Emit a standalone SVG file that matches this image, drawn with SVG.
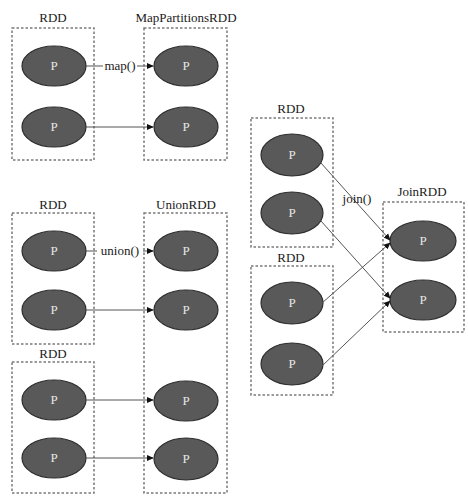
<svg xmlns="http://www.w3.org/2000/svg" width="468" height="499" viewBox="0 0 468 499">
<style>
.box{fill:none;stroke:#7a7a7a;stroke-width:1.5;stroke-dasharray:2.5 2}
.p{fill:#595959;stroke:#2e2e2e;stroke-width:1.2}
.pt{font-family:"Liberation Serif","DejaVu Serif",serif;font-size:13px;fill:#e6e6e6;text-anchor:middle}
.lb{font-family:"Liberation Serif","DejaVu Serif",serif;font-size:13px;fill:#1a1a1a;text-anchor:middle}
.c{stroke:#555;stroke-width:1;fill:none}
</style>
<defs>
<marker id="ah" viewBox="0 0 8 8" refX="7" refY="4" markerWidth="7" markerHeight="7" orient="auto" markerUnits="userSpaceOnUse">
<path d="M0,0.5 L8,4 L0,7.5 z" fill="#111"/>
</marker>
</defs>
<g id="rdd-map-src">
<text class="lb" x="53" y="22">RDD</text>
<rect class="box" x="12" y="28" width="82" height="132"/>
<ellipse class="p" cx="54" cy="66" rx="32" ry="20"/><text class="pt" x="54" y="70">P</text>
<ellipse class="p" cx="54" cy="127" rx="32" ry="20"/><text class="pt" x="54" y="131">P</text>
</g>
<g id="mappartitionsrdd">
<text class="lb" x="186" y="22">MapPartitionsRDD</text>
<rect class="box" x="144" y="28" width="83" height="132"/>
<ellipse class="p" cx="186" cy="66" rx="32" ry="20"/><text class="pt" x="186" y="70">P</text>
<ellipse class="p" cx="186" cy="127" rx="32" ry="20"/><text class="pt" x="186" y="131">P</text>
</g>
<g id="rdd-union-src1">
<text class="lb" x="53" y="209">RDD</text>
<rect class="box" x="12" y="213" width="82" height="131"/>
<ellipse class="p" cx="54" cy="251" rx="32" ry="20"/><text class="pt" x="54" y="255">P</text>
<ellipse class="p" cx="54" cy="310" rx="32" ry="20"/><text class="pt" x="54" y="314">P</text>
</g>
<g id="rdd-union-src2">
<text class="lb" x="53" y="358">RDD</text>
<rect class="box" x="12" y="362" width="82" height="131"/>
<ellipse class="p" cx="54" cy="400" rx="32" ry="20"/><text class="pt" x="54" y="404">P</text>
<ellipse class="p" cx="54" cy="458" rx="32" ry="20"/><text class="pt" x="54" y="462">P</text>
</g>
<g id="unionrdd">
<text class="lb" x="186" y="209">UnionRDD</text>
<rect class="box" x="144" y="213" width="83" height="280"/>
<ellipse class="p" cx="186" cy="251" rx="32" ry="20"/><text class="pt" x="186" y="255">P</text>
<ellipse class="p" cx="186" cy="310" rx="32" ry="20"/><text class="pt" x="186" y="314">P</text>
<ellipse class="p" cx="186" cy="401" rx="32" ry="20"/><text class="pt" x="186" y="405">P</text>
<ellipse class="p" cx="186" cy="459" rx="32" ry="21"/><text class="pt" x="186" y="463">P</text>
</g>
<g id="rdd-join-src1">
<text class="lb" x="291" y="113">RDD</text>
<rect class="box" x="251" y="118" width="82" height="129"/>
<ellipse class="p" cx="292" cy="155" rx="31" ry="21"/><text class="pt" x="292" y="159">P</text>
<ellipse class="p" cx="292" cy="213" rx="31" ry="21"/><text class="pt" x="292" y="217">P</text>
</g>
<g id="rdd-join-src2">
<text class="lb" x="291" y="262">RDD</text>
<rect class="box" x="251" y="266" width="82" height="129"/>
<ellipse class="p" cx="292" cy="303" rx="31" ry="21"/><text class="pt" x="292" y="307">P</text>
<ellipse class="p" cx="292" cy="364" rx="31" ry="21"/><text class="pt" x="292" y="368">P</text>
</g>
<g id="joinrdd">
<text class="lb" x="422" y="196">JoinRDD</text>
<rect class="box" x="383" y="202" width="81" height="130"/>
<ellipse class="p" cx="423" cy="241" rx="33" ry="20"/><text class="pt" x="423" y="245">P</text>
<ellipse class="p" cx="423" cy="300" rx="33" ry="20"/><text class="pt" x="423" y="304">P</text>
</g>
<g id="connectors">
<line class="c" x1="86" y1="66" x2="153" y2="66" marker-end="url(#ah)"/>
<line class="c" x1="86" y1="127" x2="153" y2="127" marker-end="url(#ah)"/>
<line class="c" x1="86" y1="251" x2="153" y2="251" marker-end="url(#ah)"/>
<line class="c" x1="86" y1="310" x2="153" y2="310" marker-end="url(#ah)"/>
<line class="c" x1="86" y1="400" x2="153" y2="400" marker-end="url(#ah)"/>
<line class="c" x1="86" y1="458" x2="153" y2="458" marker-end="url(#ah)"/>
<line class="c" x1="321" y1="163" x2="390" y2="240" marker-end="url(#ah)"/>
<line class="c" x1="321" y1="221" x2="390" y2="298" marker-end="url(#ah)"/>
<line class="c" x1="322" y1="303" x2="390" y2="243" marker-end="url(#ah)"/>
<line class="c" x1="322" y1="366" x2="390" y2="301" marker-end="url(#ah)"/>
<rect x="103" y="58" width="34" height="14" fill="#fff"/>
<text class="lb" x="120" y="70">map()</text>
<rect x="97" y="243" width="46" height="14" fill="#fff"/>
<text class="lb" x="120" y="255">union()</text>
<text class="lb" x="357" y="203">join()</text>
</g>
</svg>
